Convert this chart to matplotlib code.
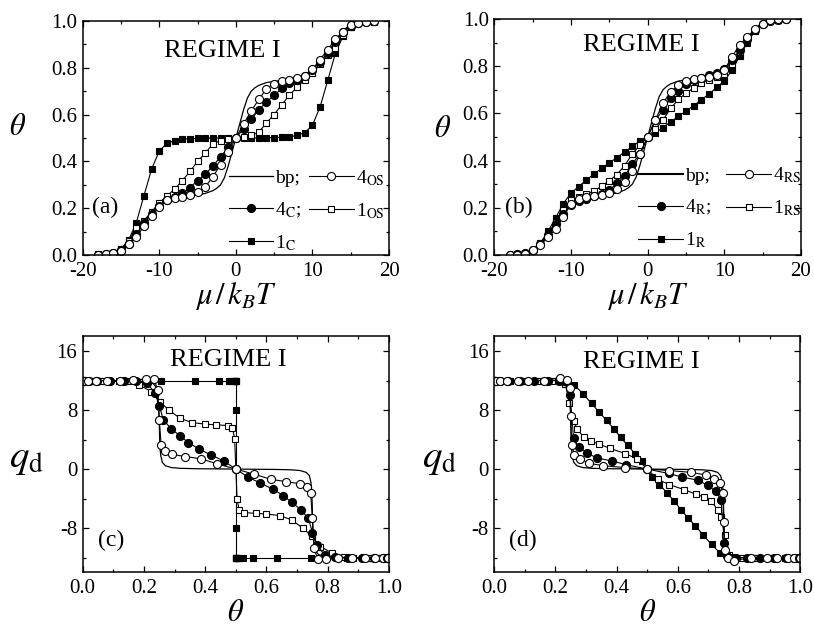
import matplotlib
matplotlib.use("Agg")
import matplotlib.pyplot as plt
from matplotlib.ticker import MultipleLocator, FormatStrFormatter

plt.rcParams['font.family'] = ['Liberation Serif', 'DejaVu Serif']
plt.rcParams['mathtext.fontset'] = 'stix'
plt.rcParams['axes.unicode_minus'] = False

# chemical potential grid of the simulated points (mu / k_B T)
mu = list(range(-18, 19))

# bp reference curve
bp_mu = [-18, -16, -15, -14, -13, -12, -11, -10, -9, -8, -7, -6, -5, -4, -3, -2.5, -2, -1.5, -1, -0.5,
         0, 0.5, 1, 1.5, 2, 2.5, 3, 4, 5, 6, 7, 8, 9, 10, 11, 12, 13, 14, 15, 16, 18]
bp_theta = [0.001, 0.006, 0.015, 0.04, 0.085, 0.14, 0.185, 0.215, 0.235, 0.245, 0.25, 0.254, 0.258, 0.263,
            0.275, 0.285, 0.30, 0.33, 0.38, 0.44, 0.5, 0.56, 0.62, 0.67, 0.70, 0.715, 0.725, 0.737, 0.742,
            0.746, 0.75, 0.755, 0.765, 0.785, 0.815, 0.86, 0.915, 0.96, 0.985, 0.994, 0.999]
bp_q_theta = [0.0, 0.1, 0.2, 0.23, 0.242, 0.248, 0.25, 0.252, 0.255, 0.26, 0.27, 0.29, 0.32, 0.37, 0.45,
              0.5, 0.55, 0.63, 0.68, 0.71, 0.73, 0.74, 0.745, 0.748, 0.75, 0.752, 0.758, 0.77, 0.8, 0.9, 1.0]
bp_qd = [12.0, 12.0, 11.9, 11.6, 11.0, 9.0, 6.0, 3.0, 1.8, 0.9, 0.45, 0.2, 0.1, 0.05, 0.02,
         0.0, -0.02, -0.05, -0.1, -0.2, -0.45, -0.9, -1.8, -3.0, -6.0, -9.0, -11.0, -11.6, -11.9, -12.0, -12.0]

# regime I, panels (a) and (c)
theta_1C = [0.002, 0.004, 0.010, 0.025, 0.065, 0.138, 0.254, 0.367, 0.445, 0.477,
            0.489, 0.495, 0.497, 0.498, 0.499, 0.500, 0.500, 0.500, 0.500,
            0.500, 0.500, 0.500, 0.501, 0.502, 0.503, 0.505, 0.511, 0.523,
            0.555, 0.633, 0.746, 0.862, 0.935, 0.975, 0.990, 0.996, 0.998]
qd_1C = [12, 12, 12, 12, 12, 12, 12, 12, 12, 12, 12, 12, 12, 12, 12, 12, 12,
         8, 0, -8,
         -12, -12, -12, -12, -12, -12, -12, -12, -12, -12, -12, -12, -12, -12, -12, -12, -12]

theta_4C = [0.002, 0.004, 0.008, 0.020, 0.048, 0.088, 0.135, 0.175, 0.209, 0.236, 0.250, 0.263,
            0.288, 0.318, 0.345, 0.380, 0.420, 0.460, 0.500,
            0.540, 0.580, 0.620, 0.655, 0.682, 0.712, 0.737, 0.750, 0.764, 0.791, 0.825, 0.865,
            0.912, 0.952, 0.980, 0.992, 0.996, 0.998]
qd_4C = [12.0, 12.0, 12.0, 12.0, 12.0, 12.0, 12.0, 11.9, 11.7, 10.3, 8.6, 6.7, 5.5, 4.5, 3.6, 2.7,
         1.9, 1.1, 0.0,
         -1.1, -1.9, -2.7, -3.6, -4.5, -5.5, -6.7, -8.6, -10.3, -11.7, -11.9, -12.0, -12.0, -12.0,
         -12.0, -12.0, -12.0, -12.0]

theta_4OS = [0.002, 0.004, 0.008, 0.018, 0.045, 0.078, 0.122, 0.165, 0.206, 0.233, 0.245, 0.250,
             0.256, 0.268, 0.290, 0.335, 0.385, 0.440, 0.500,
             0.560, 0.615, 0.665, 0.710, 0.732, 0.744, 0.750, 0.755, 0.767, 0.794, 0.835, 0.878,
             0.922, 0.955, 0.982, 0.992, 0.996, 0.998]
qd_4OS = [12.0, 12.0, 12.0, 12.0, 12.0, 12.0, 12.0, 12.1, 12.2, 12.2, 10.7, 6.7, 3.3, 2.4, 2.0, 1.7,
          1.4, 0.7, 0.0,
          -0.7, -1.4, -1.7, -2.0, -2.4, -3.3, -6.7, -10.7, -12.2, -12.2, -12.1, -12.0, -12.0, -12.0,
          -12.0, -12.0, -12.0, -12.0]

theta_1OS = [0.003, 0.005, 0.010, 0.026, 0.060, 0.117, 0.147, 0.185, 0.224, 0.252, 0.282, 0.317,
             0.357, 0.400, 0.435, 0.475, 0.489, 0.496, 0.500,
             0.504, 0.511, 0.525, 0.565, 0.600, 0.643, 0.683, 0.718, 0.748, 0.776, 0.815, 0.853,
             0.883, 0.940, 0.974, 0.990, 0.995, 0.997]
qd_1OS = [12.0, 12.0, 12.0, 12.0, 12.0, 12.0, 11.9, 11.4, 10.5, 9.1, 8.0, 6.9, 6.3, 6.1, 6.0, 5.9,
          5.6, 4.1, 0.0,
          -4.1, -5.6, -5.9, -6.0, -6.1, -6.3, -6.9, -8.0, -9.1, -10.5, -11.4, -11.9, -12.0, -12.0,
          -12.0, -12.0, -12.0, -12.0]

# regime I, panels (b) and (d)
theta_1R = [0.002, 0.004, 0.008, 0.020, 0.050, 0.100, 0.157, 0.218, 0.262, 0.290, 0.318, 0.343,
            0.367, 0.390, 0.413, 0.436, 0.460, 0.483, 0.500,
            0.517, 0.540, 0.564, 0.587, 0.610, 0.633, 0.657, 0.682, 0.710, 0.738, 0.782, 0.843,
            0.900, 0.950, 0.980, 0.992, 0.996, 0.998]
qd_1R = [12.0, 12.0, 12.0, 12.0, 12.0, 12.0, 12.0, 11.9, 11.4, 10.2, 8.9, 7.7, 6.6, 5.5, 4.3, 3.2,
         2.1, 1.1, 0.0,
         -1.1, -2.1, -3.2, -4.3, -5.5, -6.6, -7.7, -8.9, -10.2, -11.4, -11.9, -12.0, -12.0, -12.0,
         -12.0, -12.0, -12.0, -12.0]

theta_4R = [0.002, 0.004, 0.008, 0.020, 0.045, 0.085, 0.130, 0.175, 0.210, 0.228, 0.238, 0.248,
            0.259, 0.276, 0.303, 0.335, 0.385, 0.430, 0.500,
            0.570, 0.615, 0.665, 0.697, 0.724, 0.741, 0.752, 0.762, 0.772, 0.790, 0.825, 0.870,
            0.915, 0.955, 0.980, 0.992, 0.996, 0.998]
qd_4R = [12.0, 12.0, 12.0, 12.0, 12.0, 12.0, 12.0, 12.0, 12.0, 12.0, 11.8, 10.0, 4.2, 3.0, 2.2, 1.5,
         1.1, 0.6, 0.0,
         -0.6, -1.1, -1.5, -2.2, -3.0, -4.2, -10.0, -11.8, -12.0, -12.0, -12.0, -12.0, -12.0, -12.0,
         -12.0, -12.0, -12.0, -12.0]

theta_4RS = [0.001, 0.002, 0.005, 0.020, 0.041, 0.077, 0.109, 0.161, 0.216, 0.237, 0.246, 0.250,
             0.253, 0.262, 0.281, 0.308, 0.357, 0.428, 0.500,
             0.572, 0.643, 0.692, 0.719, 0.738, 0.747, 0.750, 0.754, 0.763, 0.784, 0.839, 0.891,
             0.923, 0.959, 0.980, 0.995, 0.998, 0.999]
qd_4RS = [12.0, 12.0, 12.0, 12.0, 12.0, 12.0, 12.0, 12.0, 12.4, 12.1, 11.0, 7.2, 3.3, 1.9, 1.4, 0.8,
          0.45, 0.2, 0.0,
          -0.2, -0.45, -0.8, -1.4, -1.9, -3.3, -7.2, -11.0, -12.1, -12.4, -12.0, -12.0, -12.0, -12.0,
          -12.0, -12.0, -12.0, -12.0]

theta_1RS = [0.002, 0.004, 0.008, 0.020, 0.048, 0.090, 0.140, 0.190, 0.232, 0.245, 0.259, 0.270,
             0.292, 0.315, 0.341, 0.379, 0.428, 0.466, 0.500,
             0.534, 0.572, 0.621, 0.659, 0.685, 0.708, 0.730, 0.741, 0.755, 0.768, 0.810, 0.860,
             0.910, 0.952, 0.980, 0.992, 0.996, 0.998]
qd_1RS = [12.0, 12.0, 12.0, 12.0, 12.0, 12.0, 12.0, 12.0, 11.6, 9.0, 6.5, 5.5, 4.3, 3.8, 3.4, 2.8,
          2.1, 1.4, 0.0,
          -1.4, -2.1, -2.8, -3.4, -3.8, -4.3, -5.5, -6.5, -9.0, -11.6, -12.0, -12.0, -12.0, -12.0,
          -12.0, -12.0, -12.0, -12.0]

FILLED_SQ = dict(marker='s', ms=4.5, mfc='black', mec='black')
OPEN_SQ = dict(marker='s', ms=4.5, mfc='white', mec='black')
FILLED_CI = dict(marker='o', ms=5.8, mfc='black', mec='black')
OPEN_CI = dict(marker='o', ms=5.8, mfc='white', mec='black')
LINE = dict(color='black', lw=0.8, mew=0.8)
TICK_FS = 15
TAG_FS = 17
REGIME_FS = 19


def style_axes(ax, kind):
    ax.tick_params(which='both', direction='in', top=True, right=True, labelsize=TICK_FS)
    ax.tick_params(axis='x', pad=5)
    ax.tick_params(axis='y', pad=4)
    ax.tick_params(which='major', length=4.5, width=0.9)
    ax.tick_params(which='minor', length=2.5, width=0.9)
    for sp in ax.spines.values():
        sp.set_linewidth(1.1)
    if kind == 'theta':
        ax.set_xlim(-20, 20)
        ax.set_ylim(0, 1.0)
        ax.xaxis.set_major_locator(MultipleLocator(10))
        ax.xaxis.set_minor_locator(MultipleLocator(5))
        ax.yaxis.set_major_locator(MultipleLocator(0.2))
        ax.yaxis.set_minor_locator(MultipleLocator(0.1))
        ax.yaxis.set_major_formatter(FormatStrFormatter('%.1f'))
        ax.set_xlabel(r'$\mu\,/\,k_{B}T$', fontsize=22)
        ax.xaxis.set_label_coords(0.5, -0.105)
    else:
        ax.set_xlim(0, 1.0)
        ax.set_ylim(-14, 18)
        ax.xaxis.set_major_locator(MultipleLocator(0.2))
        ax.xaxis.set_minor_locator(MultipleLocator(0.1))
        ax.xaxis.set_major_formatter(FormatStrFormatter('%.1f'))
        ax.yaxis.set_major_locator(MultipleLocator(8))
        ax.yaxis.set_minor_locator(MultipleLocator(4))
        ax.set_xlabel(r'$\theta$', fontsize=22)
        ax.xaxis.set_label_coords(0.5, -0.115)


fig = plt.figure(figsize=(8.14, 6.27), dpi=100)
ax_a = fig.add_axes([0.1016, 0.5933, 0.3763, 0.3732])
ax_b = fig.add_axes([0.6072, 0.5933, 0.3768, 0.3764])
ax_c = fig.add_axes([0.1016, 0.0872, 0.3763, 0.3764])
ax_d = fig.add_axes([0.6072, 0.0872, 0.3759, 0.3764])

leg_kw = dict(ncol=2, loc='lower right', frameon=False, fontsize=14, handlelength=2.3,
              handletextpad=0.1, labelspacing=0.68, borderpad=0, borderaxespad=0, numpoints=1)

# (a)
ax_a.plot(bp_mu, bp_theta, color='black', lw=0.9)
h1c, = ax_a.plot(mu, theta_1C, **LINE, **FILLED_SQ)
h1os, = ax_a.plot(mu, theta_1OS, **LINE, **OPEN_SQ)
h4c, = ax_a.plot(mu, theta_4C, **LINE, **FILLED_CI)
h4os, = ax_a.plot(mu, theta_4OS, **LINE, **OPEN_CI)
hbp, = ax_a.plot([], [], color='black', lw=0.9)
style_axes(ax_a, 'theta')
ax_a.set_ylabel(r'$\theta$', fontsize=22, rotation=0, va='center', ha='center')
ax_a.yaxis.set_label_coords(-0.214, 0.547)
ax_a.text(0.455, 0.872, 'REGIME I', transform=ax_a.transAxes, fontsize=REGIME_FS, ha='center', va='center')
ax_a.text(0.03, 0.205, '(a)', transform=ax_a.transAxes, fontsize=TAG_FS, ha='left', va='center')
ax_a.legend([hbp, h4c, h1c, h4os, h1os],
            ['bp;', r'4$_{\mathrm{C}}$;', r'1$_{\mathrm{C}}$', r'4$_{\mathrm{OS}}$', r'1$_{\mathrm{OS}}$'],
            bbox_to_anchor=(0.985, 0.01), columnspacing=0.4, **leg_kw)

# (b)
ax_b.plot(bp_mu, bp_theta, color='black', lw=0.9)
h1r, = ax_b.plot(mu, theta_1R, **LINE, **FILLED_SQ)
h1rs, = ax_b.plot(mu, theta_1RS, **LINE, **OPEN_SQ)
h4r, = ax_b.plot(mu, theta_4R, **LINE, **FILLED_CI)
h4rs, = ax_b.plot(mu, theta_4RS, **LINE, **OPEN_CI)
hbp2, = ax_b.plot([], [], color='black', lw=1.5)
style_axes(ax_b, 'theta')
ax_b.set_ylabel(r'$\theta$', fontsize=22, rotation=0, va='center', ha='center')
ax_b.yaxis.set_label_coords(-0.17, 0.53)
ax_b.text(0.48, 0.89, 'REGIME I', transform=ax_b.transAxes, fontsize=REGIME_FS, ha='center', va='center')
ax_b.text(0.035, 0.2, '(b)', transform=ax_b.transAxes, fontsize=TAG_FS, ha='left', va='center')
ax_b.legend([hbp2, h4r, h1r, h4rs, h1rs],
            ['bp;', r'4$_{\mathrm{R}}$;', r'1$_{\mathrm{R}}$', r'4$_{\mathrm{RS}}$', r'1$_{\mathrm{RS}}$'],
            bbox_to_anchor=(1.0, 0.02), columnspacing=0.8, **leg_kw)

# (c)
ax_c.plot(bp_q_theta, bp_qd, color='black', lw=0.9)
ax_c.plot(theta_1C, qd_1C, **LINE, **FILLED_SQ)
ax_c.plot(theta_1OS, qd_1OS, **LINE, **OPEN_SQ)
ax_c.plot(theta_4C, qd_4C, **LINE, **FILLED_CI)
ax_c.plot(theta_4OS, qd_4OS, **LINE, **OPEN_CI)
style_axes(ax_c, 'q')
ax_c.set_ylabel(r'$q_{\mathrm{d}}$', fontsize=28, rotation=0, va='center', ha='center')
ax_c.yaxis.set_label_coords(-0.185, 0.484)
ax_c.text(0.475, 0.9, 'REGIME I', transform=ax_c.transAxes, fontsize=REGIME_FS, ha='center', va='center')
ax_c.text(0.05, 0.137, '(c)', transform=ax_c.transAxes, fontsize=TAG_FS, ha='left', va='center')

# (d)
ax_d.plot(bp_q_theta, bp_qd, color='black', lw=0.9)
ax_d.plot(theta_1R, qd_1R, **LINE, **FILLED_SQ)
ax_d.plot(theta_1RS, qd_1RS, **LINE, **OPEN_SQ)
ax_d.plot(theta_4R, qd_4R, **LINE, **FILLED_CI)
ax_d.plot(theta_4RS, qd_4RS, **LINE, **OPEN_CI)
style_axes(ax_d, 'q')
ax_d.set_ylabel(r'$q_{\mathrm{d}}$', fontsize=28, rotation=0, va='center', ha='center')
ax_d.yaxis.set_label_coords(-0.18, 0.484)
ax_d.text(0.479, 0.89, 'REGIME I', transform=ax_d.transAxes, fontsize=REGIME_FS, ha='center', va='center')
ax_d.text(0.048, 0.135, '(d)', transform=ax_d.transAxes, fontsize=TAG_FS, ha='left', va='center')

fig.savefig('out.png', dpi=100)
